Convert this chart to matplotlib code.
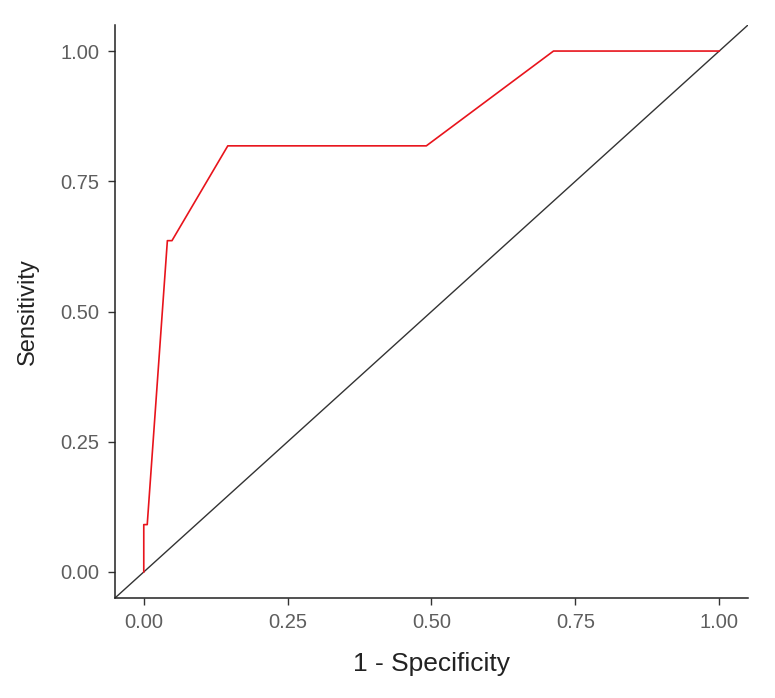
import matplotlib
matplotlib.use("Agg")
import matplotlib.pyplot as plt

plt.rcParams['font.family'] = ['Liberation Sans', 'DejaVu Sans']

fpr = [0.0, 0.0, 0.006, 0.041, 0.049, 0.146, 0.491, 0.712, 1.0]
tpr = [0.0, 0.0909, 0.0909, 0.636, 0.636, 0.818, 0.818, 1.0, 1.0]
ticks = [0.0, 0.25, 0.5, 0.75, 1.0]
tick_labels = ["0.00", "0.25", "0.50", "0.75", "1.00"]

fig = plt.figure(figsize=(7.75, 6.98), dpi=100)
ax = fig.add_axes([115/775, 100/698, (748-115)/775, (598-25)/698])

ax.axline((0, 0), slope=1, color="#333333", lw=1.0, zorder=1)
ax.plot(fpr, tpr, color="#e8141c", lw=1.2, zorder=2)

ax.set_xlim(-0.05, 1.05)
ax.set_ylim(-0.05, 1.05)
ax.set_xticks(ticks)
ax.set_xticklabels(tick_labels)
ax.set_yticks(ticks)
ax.set_yticklabels(tick_labels)

for s in ["top", "right"]:
    ax.spines[s].set_visible(False)
for s in ["left", "bottom"]:
    ax.spines[s].set_linewidth(1.1)
    ax.spines[s].set_color("#222222")

ax.tick_params(axis="both", direction="out", length=5, width=1.0, color="#333333",
               labelsize=14.5, labelcolor="#5e5e5e", pad=6)

ax.set_xlabel("1 - Specificity", fontsize=19, color="#222222", labelpad=14)
ax.set_ylabel("Sensitivity", fontsize=17, color="#222222", labelpad=16)

fig.savefig("out.png", dpi=100, facecolor="white")
